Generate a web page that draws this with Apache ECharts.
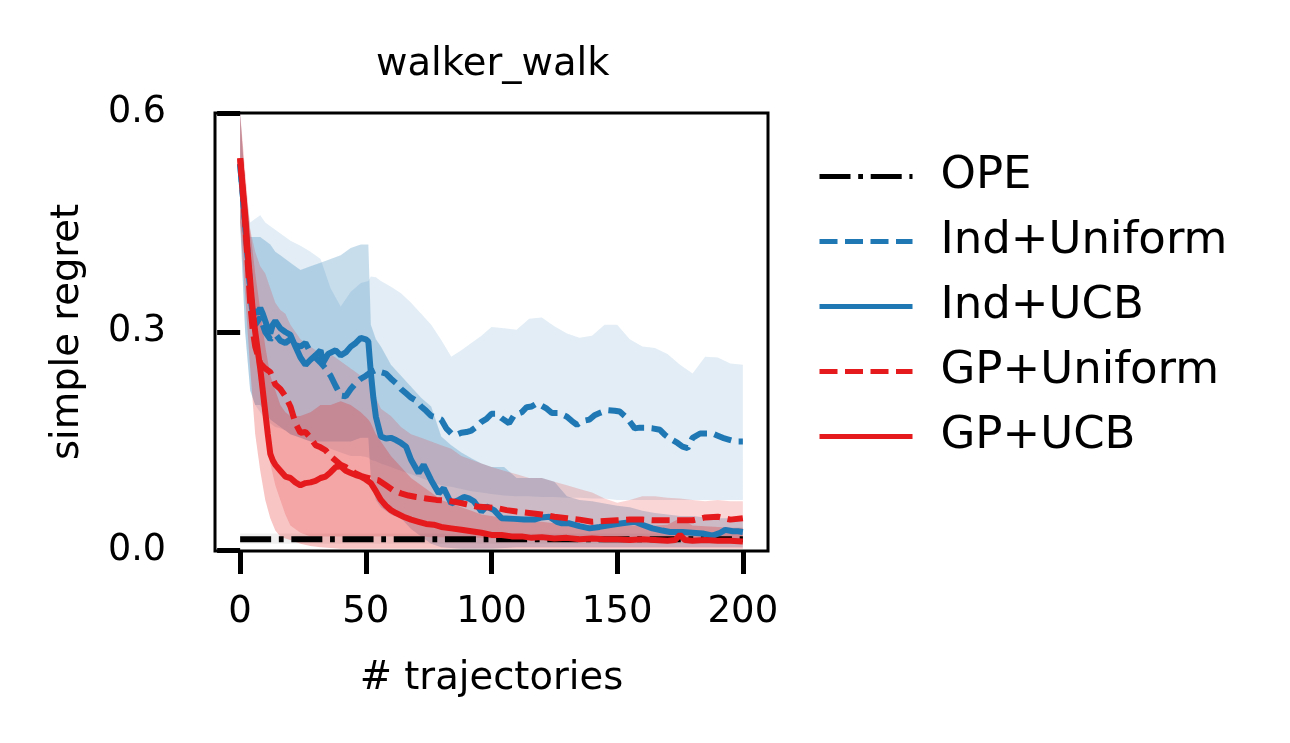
<!DOCTYPE html>
<html>
<head>
<meta charset="utf-8">
<script src="https://cdn.jsdelivr.net/npm/echarts@6/dist/echarts.min.js"></script>
<style>
html,body{margin:0;padding:0;background:#fff;}
#chart{width:1290px;height:743px;}
</style>
</head>
<body>
<div id="chart"></div>
<script>
// ---------------- data ----------------
var seriesNames = ['OPE', 'Ind+Uniform', 'Ind+UCB', 'GP+Uniform', 'GP+UCB'];
var xTicks = [0, 50, 100, 150, 200];
var yTicks = [0.0, 0.3, 0.6];

var opeLine = [[0, 0.016], [200, 0.016]];
var opeBandX = [0, 200];
var opeLo = [0.010, 0.010];
var opeHi = [0.024, 0.024];

var indUniform = [[0,0.53],[2,0.45],[4,0.36],[5,0.32],[6,0.31],[8,0.32],[10,0.30],[12,0.29],[14,0.297],[16,0.288],[18,0.285],[20,0.29],[22,0.282],[24,0.28],[26,0.285],[28,0.272],[30,0.265],[32,0.258],[34,0.25],[36,0.24],[38,0.226],[40,0.213],[42,0.212],[44,0.222],[46,0.23],[48,0.236],[50,0.24],[52,0.245],[54,0.248],[56,0.245],[58,0.243],[60,0.236],[62,0.23],[64,0.222],[66,0.216],[68,0.21],[70,0.206],[72,0.198],[74,0.192],[76,0.185],[78,0.183],[80,0.18],[82,0.168],[84,0.161],[86,0.159],[88,0.162],[90,0.163],[92,0.165],[94,0.17],[96,0.177],[98,0.181],[100,0.188],[102,0.188],[104,0.182],[107,0.175],[109,0.186],[112,0.19],[114,0.197],[116,0.198],[118,0.202],[120,0.199],[122,0.195],[124,0.189],[127,0.189],[130,0.184],[132,0.178],[134,0.173],[136,0.178],[139,0.18],[141,0.186],[143,0.189],[146,0.193],[149,0.192],[151,0.191],[154,0.182],[157,0.168],[159,0.169],[161,0.169],[164,0.168],[167,0.166],[169,0.159],[171,0.154],[174,0.148],[176,0.143],[178,0.141],[180,0.155],[183,0.161],[186,0.161],[188,0.161],[190,0.158],[192,0.155],[194,0.153],[196,0.151],[198,0.15],[200,0.15]];

var indUcb = [[0,0.53],[2,0.45],[4,0.36],[5,0.325],[6,0.33],[7,0.325],[8,0.333],[9,0.325],[10,0.315],[11,0.305],[12,0.298],[13,0.31],[14,0.315],[15,0.31],[16,0.305],[18,0.3],[20,0.296],[22,0.28],[24,0.265],[26,0.255],[28,0.262],[30,0.268],[32,0.275],[33,0.258],[35,0.27],[38,0.275],[40,0.268],[42,0.272],[44,0.28],[46,0.285],[48,0.292],[50,0.29],[51,0.287],[52,0.244],[53,0.21],[54,0.184],[56,0.157],[58,0.154],[60,0.155],[62,0.152],[64,0.148],[66,0.143],[68,0.125],[71,0.107],[73,0.118],[76,0.097],[79,0.079],[81,0.086],[84,0.065],[87,0.07],[89,0.074],[91,0.072],[93,0.068],[96,0.054],[98,0.061],[101,0.056],[104,0.045],[109,0.044],[113,0.043],[117,0.043],[120,0.046],[123,0.047],[126,0.04],[128,0.038],[131,0.038],[135,0.034],[139,0.031],[143,0.033],[148,0.036],[152,0.038],[157,0.04],[160,0.036],[164,0.031],[168,0.028],[171,0.026],[176,0.026],[180,0.025],[184,0.024],[188,0.021],[191,0.025],[193,0.029],[196,0.027],[198,0.027],[200,0.026]];

var gpUniform = [[0,0.538],[2,0.45],[4,0.34],[5,0.303],[6,0.28],[8,0.257],[10,0.25],[12,0.245],[14,0.228],[16,0.222],[18,0.212],[20,0.198],[22,0.175],[24,0.162],[26,0.163],[28,0.155],[30,0.145],[32,0.142],[34,0.138],[36,0.13],[38,0.124],[40,0.118],[42,0.115],[44,0.111],[46,0.106],[48,0.103],[50,0.101],[52,0.099],[55,0.097],[58,0.09],[61,0.083],[64,0.079],[67,0.076],[70,0.074],[74,0.072],[78,0.07],[82,0.069],[86,0.067],[90,0.064],[94,0.061],[98,0.06],[102,0.059],[106,0.056],[110,0.054],[115,0.052],[120,0.05],[125,0.047],[130,0.045],[135,0.043],[140,0.04],[145,0.041],[150,0.042],[155,0.043],[160,0.043],[165,0.042],[170,0.042],[175,0.042],[180,0.042],[185,0.046],[190,0.047],[195,0.043],[200,0.045]];

var gpUcb = [[0,0.538],[1,0.5],[2,0.46],[3,0.41],[4,0.37],[5,0.33],[6,0.3],[7,0.275],[8,0.25],[9,0.22],[10,0.19],[11,0.16],[12,0.133],[13,0.124],[14,0.118],[16,0.11],[18,0.102],[20,0.1],[22,0.094],[24,0.09],[26,0.093],[28,0.094],[30,0.096],[32,0.1],[34,0.102],[36,0.108],[38,0.115],[40,0.116],[42,0.11],[44,0.107],[46,0.104],[48,0.102],[50,0.098],[52,0.093],[54,0.082],[56,0.07],[58,0.062],[60,0.056],[62,0.052],[65,0.047],[68,0.043],[71,0.04],[74,0.037],[77,0.036],[80,0.033],[84,0.031],[88,0.029],[92,0.027],[96,0.025],[100,0.022],[104,0.022],[108,0.02],[112,0.02],[116,0.018],[120,0.019],[125,0.017],[130,0.018],[135,0.016],[140,0.017],[145,0.016],[150,0.016],[155,0.015],[160,0.016],[165,0.015],[170,0.014],[173,0.015],[175,0.022],[177,0.015],[180,0.014],[185,0.015],[190,0.014],[195,0.014],[200,0.013]];

var bandX = [0,2,4,6,8,10,12,14,16,18,20,24,28,32,36,40,44,48,51,52,54,56,60,64,68,72,76,80,84,88,92,96,100,105,110,115,120,125,130,135,140,145,150,155,160,165,170,175,180,185,190,195,200];

var indUniformHi = [0.6,0.5,0.45,0.455,0.46,0.45,0.445,0.44,0.435,0.43,0.425,0.418,0.41,0.4,0.36,0.335,0.355,0.367,0.37,0.376,0.375,0.37,0.362,0.353,0.34,0.325,0.31,0.289,0.266,0.275,0.285,0.295,0.307,0.305,0.303,0.318,0.32,0.308,0.298,0.292,0.295,0.31,0.31,0.29,0.28,0.278,0.27,0.255,0.243,0.266,0.265,0.257,0.255];
var indUniformLo = [0.45,0.3,0.22,0.2,0.19,0.18,0.175,0.17,0.168,0.165,0.16,0.155,0.15,0.145,0.14,0.135,0.13,0.13,0.128,0.125,0.123,0.12,0.115,0.11,0.105,0.1,0.095,0.09,0.088,0.085,0.082,0.08,0.078,0.076,0.075,0.075,0.074,0.074,0.073,0.073,0.072,0.072,0.07,0.07,0.07,0.07,0.07,0.07,0.07,0.07,0.07,0.07,0.07];

var indUcbHi = [0.6,0.5,0.43,0.43,0.43,0.425,0.42,0.41,0.405,0.4,0.395,0.385,0.39,0.395,0.4,0.405,0.415,0.42,0.42,0.31,0.29,0.28,0.255,0.24,0.225,0.21,0.198,0.157,0.145,0.135,0.127,0.12,0.115,0.115,0.1,0.1,0.1,0.095,0.075,0.07,0.068,0.065,0.062,0.06,0.055,0.052,0.05,0.048,0.048,0.046,0.045,0.045,0.045];
var indUcbLo = [0.45,0.3,0.22,0.2,0.2,0.19,0.18,0.175,0.17,0.165,0.16,0.155,0.15,0.15,0.15,0.15,0.15,0.155,0.155,0.1,0.07,0.06,0.05,0.045,0.03,0.02,0.01,0.005,0.004,0.003,0.003,0.003,0.003,0.004,0.005,0.005,0.005,0.005,0.005,0.005,0.005,0.005,0.005,0.005,0.005,0.005,0.005,0.005,0.005,0.005,0.005,0.005,0.005];

var gpUniformHi = [0.6,0.5,0.44,0.41,0.39,0.38,0.36,0.34,0.33,0.325,0.31,0.29,0.28,0.27,0.27,0.26,0.25,0.24,0.235,0.23,0.21,0.195,0.185,0.17,0.16,0.155,0.15,0.145,0.14,0.13,0.125,0.12,0.115,0.11,0.105,0.1,0.1,0.095,0.09,0.085,0.08,0.072,0.066,0.07,0.075,0.075,0.073,0.072,0.07,0.068,0.07,0.068,0.068];
var gpUniformLo = [0.45,0.4,0.33,0.27,0.22,0.17,0.12,0.09,0.07,0.05,0.035,0.025,0.02,0.02,0.02,0.02,0.02,0.02,0.02,0.02,0.02,0.02,0.02,0.02,0.02,0.02,0.019,0.019,0.018,0.018,0.018,0.018,0.017,0.017,0.017,0.016,0.016,0.016,0.016,0.016,0.016,0.015,0.015,0.015,0.015,0.015,0.015,0.015,0.015,0.015,0.015,0.015,0.015];

var gpUcbHi = [0.6,0.52,0.44,0.38,0.33,0.28,0.24,0.22,0.2,0.19,0.185,0.185,0.19,0.2,0.2,0.205,0.2,0.19,0.18,0.175,0.16,0.15,0.13,0.115,0.1,0.09,0.08,0.07,0.065,0.06,0.055,0.05,0.048,0.045,0.042,0.04,0.04,0.038,0.037,0.036,0.035,0.035,0.035,0.035,0.035,0.035,0.036,0.045,0.035,0.034,0.033,0.032,0.032];
var gpUcbLo = [0.45,0.35,0.25,0.16,0.11,0.07,0.045,0.028,0.02,0.017,0.015,0.01,0.007,0.005,0.004,0.003,0.003,0.003,0.003,0.003,0.003,0.003,0.003,0.003,0.003,0.003,0.003,0.003,0.003,0.003,0.003,0.003,0.003,0.003,0.003,0.003,0.003,0.003,0.003,0.003,0.003,0.003,0.003,0.003,0.003,0.003,0.003,0.003,0.003,0.003,0.003,0.003,0.003];

// ---------------- chart ----------------
var BLUE = '#1f77b4', RED = '#e41a1c';
var FONT = 'DejaVu Sans';

function band(xs, lo, hi, fill) {
  return {
    type: 'custom',
    silent: true,
    z: 1,
    clip: true,
    data: [[xs[0], lo[0]]],
    renderItem: function (params, api) {
      var pts = [];
      for (var i = 0; i < xs.length; i++) pts.push(api.coord([xs[i], hi[i]]));
      for (var j = xs.length - 1; j >= 0; j--) pts.push(api.coord([xs[j], lo[j]]));
      return { type: 'polygon', shape: { points: pts }, style: { fill: fill } };
    }
  };
}
function line(name, data, color, type) {
  return {
    type: 'line', name: name, data: data, symbol: 'none', z: 3,
    lineStyle: { color: color, width: 6, type: type },
    itemStyle: { color: color },
    emphasis: { disabled: true }, animation: false
  };
}

var chart = echarts.init(document.getElementById('chart'), null, { renderer: 'canvas' });
chart.setOption({
  animation: false,
  backgroundColor: '#fff',
  title: {
    text: 'walker_walk', left: 371, top: 40,
    textStyle: { fontFamily: FONT, fontSize: 38.5, fontWeight: 'normal', color: '#000' }
  },
  grid: { left: 215, top: 113, width: 553, height: 438, show: true, borderColor: '#000', borderWidth: 3, backgroundColor: 'transparent' },
  legend: {
    orient: 'vertical', left: 812, top: 149,
    data: seriesNames,
    itemWidth: 93, itemHeight: 14, itemGap: 20,
    itemStyle: { opacity: 0 },
    lineStyle: { width: 5 },
    textStyle: { fontFamily: FONT, fontSize: 45, color: '#000', lineHeight: 45, padding: [0, 0, 0, 23] },
    selectedMode: false
  },
  xAxis: {
    type: 'value', min: -10, max: 210,
    name: '# trajectories', nameLocation: 'middle', nameGap: 108,
    nameTextStyle: { fontFamily: FONT, fontSize: 38.5, color: '#000' },
    axisLine: { show: false },
    splitLine: { show: false },
    axisTick: { show: true, length: 23, customValues: xTicks, lineStyle: { color: '#000', width: 5 } },
    axisLabel: { customValues: xTicks, margin: 43, fontFamily: FONT, fontSize: 37, color: '#000' }
  },
  yAxis: {
    type: 'value', min: 0, max: 0.6, interval: 0.3,
    name: 'simple regret', nameLocation: 'middle', nameGap: 128,
    nameTextStyle: { fontFamily: FONT, fontSize: 38.5, color: '#000' },
    axisLine: { show: false },
    splitLine: { show: false },
    axisTick: { show: true, length: 23, customValues: [0.0004, 0.3, 0.5996], lineStyle: { color: '#000', width: 5 } },
    axisLabel: { customValues: yTicks, margin: 49, fontFamily: FONT, fontSize: 36.5, color: '#000',
      formatter: function (v) { return v.toFixed(1); } }
  },
  series: [
    band(opeBandX, opeLo, opeHi, 'rgba(0,0,0,0.06)'),
    band(bandX, indUniformLo, indUniformHi, 'rgba(31,119,180,0.13)'),
    band(bandX, indUcbLo, indUcbHi, 'rgba(31,119,180,0.25)'),
    band(bandX, gpUniformLo, gpUniformHi, 'rgba(228,26,28,0.18)'),
    band(bandX, gpUcbLo, gpUcbHi, 'rgba(228,26,28,0.26)'),
    line('OPE', opeLine, '#000', [31, 7.7, 4.8, 7.7]),
    line('Ind+Uniform', indUniform, BLUE, [18, 7.5]),
    line('Ind+UCB', indUcb, BLUE, 'solid'),
    line('GP+Uniform', gpUniform, RED, [18, 7.5]),
    line('GP+UCB', gpUcb, RED, 'solid')
  ]
});
</script>
</body>
</html>
